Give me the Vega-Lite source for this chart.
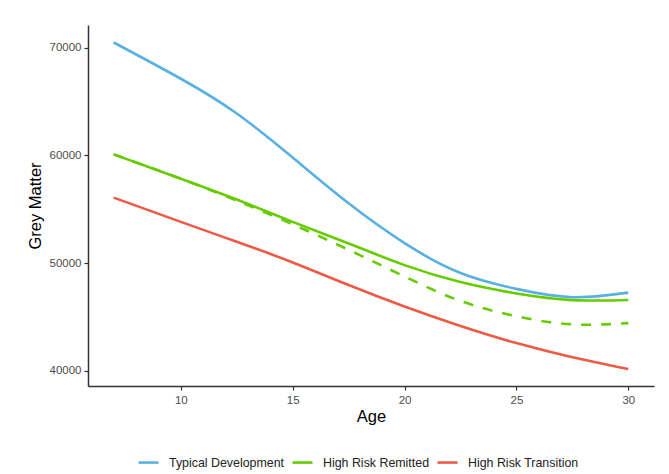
{
  "$schema": "https://vega.github.io/schema/vega-lite/v6.json",
  "width": 566,
  "height": 361,
  "autosize": {"type": "none"},
  "padding": {"left": 88, "top": 25, "right": 15, "bottom": 88},
  "background": "white",
  "config": {
    "view": {"stroke": null},
    "font": "Liberation Sans",
    "axis": {
      "grid": false,
      "domainColor": "#333333",
      "domainWidth": 1.5,
      "tickColor": "#333333",
      "tickWidth": 1.2,
      "tickSize": 4,
      "labelColor": "#4d4d4d",
      "labelFontSize": 11.5,
      "labelFont": "Liberation Sans",
      "titleFont": "Liberation Sans",
      "titleFontSize": 16.5,
      "titleFontWeight": "normal",
      "titleColor": "#000000"
    },
    "legend": {
      "labelFont": "Liberation Sans",
      "labelFontSize": 12.4,
      "labelColor": "#222222"
    }
  },
  "datasets": {
    "main": [
      {"group": "Typical Development", "age": 7, "gm": 70500},
      {"group": "Typical Development", "age": 10, "gm": 67130},
      {"group": "Typical Development", "age": 12.5, "gm": 63900},
      {"group": "Typical Development", "age": 15, "gm": 59800},
      {"group": "Typical Development", "age": 17.5, "gm": 55550},
      {"group": "Typical Development", "age": 20, "gm": 51850},
      {"group": "Typical Development", "age": 22.5, "gm": 49070},
      {"group": "Typical Development", "age": 25, "gm": 47600},
      {"group": "Typical Development", "age": 27.5, "gm": 46830},
      {"group": "Typical Development", "age": 30, "gm": 47250},
      {"group": "High Risk Remitted", "age": 7, "gm": 60100},
      {"group": "High Risk Remitted", "age": 10, "gm": 57840},
      {"group": "High Risk Remitted", "age": 12.5, "gm": 55900},
      {"group": "High Risk Remitted", "age": 15, "gm": 53830},
      {"group": "High Risk Remitted", "age": 17.5, "gm": 51820},
      {"group": "High Risk Remitted", "age": 20, "gm": 49810},
      {"group": "High Risk Remitted", "age": 22.5, "gm": 48230},
      {"group": "High Risk Remitted", "age": 25, "gm": 47180},
      {"group": "High Risk Remitted", "age": 27.5, "gm": 46560},
      {"group": "High Risk Remitted", "age": 30, "gm": 46570},
      {"group": "High Risk Transition", "age": 7, "gm": 56080},
      {"group": "High Risk Transition", "age": 10, "gm": 53830},
      {"group": "High Risk Transition", "age": 12.5, "gm": 51980},
      {"group": "High Risk Transition", "age": 15, "gm": 50060},
      {"group": "High Risk Transition", "age": 17.5, "gm": 47960},
      {"group": "High Risk Transition", "age": 20, "gm": 45960},
      {"group": "High Risk Transition", "age": 22.5, "gm": 44150},
      {"group": "High Risk Transition", "age": 25, "gm": 42560},
      {"group": "High Risk Transition", "age": 27.5, "gm": 41250},
      {"group": "High Risk Transition", "age": 30, "gm": 40160}
    ],
    "dashed": [
      {"group": "High Risk Remitted", "age": 7, "gm": 60100},
      {"group": "High Risk Remitted", "age": 10, "gm": 57840},
      {"group": "High Risk Remitted", "age": 12.5, "gm": 55800},
      {"group": "High Risk Remitted", "age": 15, "gm": 53600},
      {"group": "High Risk Remitted", "age": 17.5, "gm": 51230},
      {"group": "High Risk Remitted", "age": 20, "gm": 48750},
      {"group": "High Risk Remitted", "age": 22.5, "gm": 46480},
      {"group": "High Risk Remitted", "age": 25, "gm": 45060},
      {"group": "High Risk Remitted", "age": 27.5, "gm": 44300},
      {"group": "High Risk Remitted", "age": 30, "gm": 44420}
    ]
  },
  "layer": [
    {
      "data": {"name": "dashed"},
      "mark": {"type": "line", "interpolate": "natural", "strokeWidth": 2.6, "strokeDash": [10, 10], "color": "#66CC00"},
      "encoding": {
        "x": {"field": "age", "type": "quantitative"},
        "y": {"field": "gm", "type": "quantitative"}
      }
    },
    {
      "data": {"name": "main"},
      "mark": {"type": "line", "interpolate": "natural", "strokeWidth": 2.6},
      "encoding": {
        "x": {
          "field": "age",
          "type": "quantitative",
          "scale": {"domain": [5.85, 31.15], "nice": false, "zero": false},
          "axis": {"values": [10, 15, 20, 25, 30], "title": "Age", "titlePadding": 3, "labelPadding": 4}
        },
        "y": {
          "field": "gm",
          "type": "quantitative",
          "scale": {"domain": [38575, 72125], "nice": false, "zero": false},
          "axis": {"values": [40000, 50000, 60000, 70000], "format": "d", "title": "Grey Matter", "titlePadding": 6, "labelPadding": 3}
        },
        "color": {
          "field": "group",
          "type": "nominal",
          "scale": {
            "domain": ["Typical Development", "High Risk Remitted", "High Risk Transition"],
            "range": ["#5AB0E0", "#66CC00", "#EE5A45"]
          },
          "legend": {
            "title": null,
            "orient": "none",
            "direction": "horizontal",
            "legendX": 49,
            "legendY": 426,
            "symbolType": "stroke",
            "symbolStrokeWidth": 2.6,
            "symbolSize": 400,
            "labelOffset": 9,
            "columnPadding": 2
          }
        }
      }
    }
  ]
}
